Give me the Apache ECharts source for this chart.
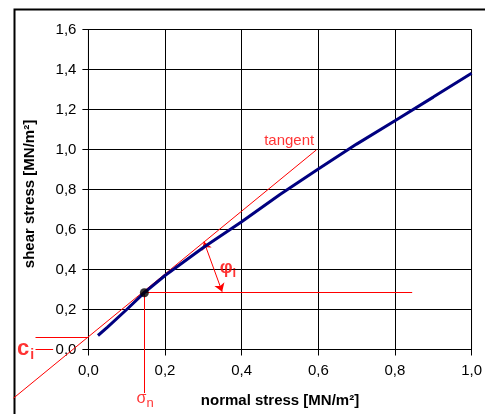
<!DOCTYPE html>
<html>
<head>
<meta charset="utf-8">
<script src="https://cdn.jsdelivr.net/npm/echarts@6/dist/echarts.min.js"></script>
<style>html,body{margin:0;padding:0;background:#fff}#c{width:485px;height:414px}</style>
</head>
<body>
<div id="c"></div>
<script>
// ---- data ----
var curveX = [0.025, 0.05, 0.1, 0.146, 0.2, 0.3, 0.4, 0.5, 0.6, 0.7, 0.8, 0.9, 1.0];
var curveY = [0.07, 0.112, 0.2, 0.284, 0.37, 0.51, 0.639, 0.775, 0.902, 1.027, 1.144, 1.262, 1.381];
var contactPoint = [0.146, 0.284];
var tangentLine = [[-0.196, -0.244], [0.595, 0.998]];
var ciLine = [[-0.138, 0.0635], [0, 0.0635]];
var ciLeader = [[-0.138, 0], [-0.092, 0]];
var sigmaLine = [[0.146, 0.284], [0.146, -0.2175]];
var horizLine = [[0.146, 0.284], [0.845, 0.284]];
var phiArrow = [[0.3016, 0.539], [0.349, 0.289]];
var annotations = [
  {value: [0.524, 1.0425], text: 'tangent'},
  {value: [-0.164, 0.003], text: '{b|c}{s|i}'},
  {value: [0.148, -0.2475], text: '{g|σ}{n|n}'},
  {value: [0.364, 0.4075], text: '{p|φ}{q|i}'}
];
var xTicks = {min: 0, max: 1.0, interval: 0.2};
var yTicks = {min: 0, max: 1.6, interval: 0.2};
var xName = 'normal stress [MN/m²]';
var yName = 'shear stress [MN/m²]';

var font = 'Liberation Sans, Arial, sans-serif';
var red = '#ff0000';
function fmt(v) { return v.toFixed(1).replace('.', ','); }

var chart = echarts.init(document.getElementById('c'), null, {renderer: 'canvas'});
chart.setOption({
  animation: false,
  backgroundColor: '#fff',
  graphic: [{type: 'rect', left: 12, top: 7, z: -1,
    shape: {width: 480, height: 420},
    style: {fill: 'none', stroke: '#000', lineWidth: 2}}],
  grid: {left: 88.4, right: 9.3, top: 29.5, bottom: 64.5, show: true,
    borderColor: '#808080', borderWidth: 1, backgroundColor: 'transparent'},
  xAxis: {type: 'value', min: xTicks.min, max: xTicks.max, interval: xTicks.interval,
    name: xName, nameLocation: 'middle', nameGap: 44,
    nameTextStyle: {fontFamily: font, fontSize: 15, fontWeight: 'bold', color: '#000'},
    axisLine: {show: true, onZero: false, lineStyle: {color: '#000', width: 1}},
    axisTick: {show: true, length: 6, lineStyle: {color: '#000'}},
    axisLabel: {formatter: fmt, fontFamily: font, fontSize: 15, color: '#000', margin: 14},
    splitLine: {show: true, lineStyle: {color: '#000', width: 1}}},
  yAxis: {type: 'value', min: yTicks.min, max: yTicks.max, interval: yTicks.interval,
    name: yName, nameLocation: 'middle', nameGap: 51, nameRotate: 90,
    nameTextStyle: {fontFamily: font, fontSize: 15, fontWeight: 'bold', color: '#000', padding: [0, 9, 0, 0]},
    axisLine: {show: true, onZero: false, lineStyle: {color: '#000', width: 1}},
    axisTick: {show: true, length: 6, lineStyle: {color: '#000'}},
    axisLabel: {formatter: fmt, fontFamily: font, fontSize: 15, color: '#000', margin: 12},
    splitLine: {show: true, lineStyle: {color: '#000', width: 1}}},
  series: [
    {type: 'lines', coordinateSystem: 'cartesian2d', clip: false, silent: true, z: 4,
      lineStyle: {color: red, width: 1, opacity: 1},
      data: [tangentLine, ciLine, ciLeader, sigmaLine, horizLine].map(function (c) { return {coords: c}; })},
    {type: 'lines', coordinateSystem: 'cartesian2d', clip: false, silent: true, z: 4,
      symbol: ['arrow', 'arrow'], symbolSize: 8,
      lineStyle: {color: red, width: 1, opacity: 1},
      data: [{coords: phiArrow}]},
    {type: 'line', data: curveX.map(function (x, i) { return [x, curveY[i]]; }),
      showSymbol: false, symbol: 'none', smooth: false, clip: false, z: 5,
      lineStyle: {color: '#000080', width: 3}},
    {type: 'scatter', data: [contactPoint], symbolSize: 9, clip: false, z: 6,
      itemStyle: {color: '#000'}},
    {type: 'scatter', clip: false, symbolSize: 0, z: 7, silent: true,
      data: annotations.map(function (a) { return {value: a.value, text: a.text}; }),
      label: {show: true, position: 'inside', color: red, fontFamily: font, fontSize: 15,
        formatter: function (p) { return p.data.text; },
        rich: {
          b: {fontSize: 22, fontWeight: 'bold', color: red, fontFamily: font},
          s: {fontSize: 14, fontWeight: 'bold', color: red, fontFamily: font, padding: [12, 0, 0, 1]},
          g: {fontSize: 16, color: red, fontFamily: font},
          n: {fontSize: 13, color: red, fontFamily: font, padding: [8, 0, 0, 0]},
          p: {fontSize: 18, fontWeight: 'bold', color: red, fontFamily: font},
          q: {fontSize: 13, fontWeight: 'bold', color: red, fontFamily: font, padding: [10, 0, 0, 0]}
        }}}
  ]
});
</script>
</body>
</html>
